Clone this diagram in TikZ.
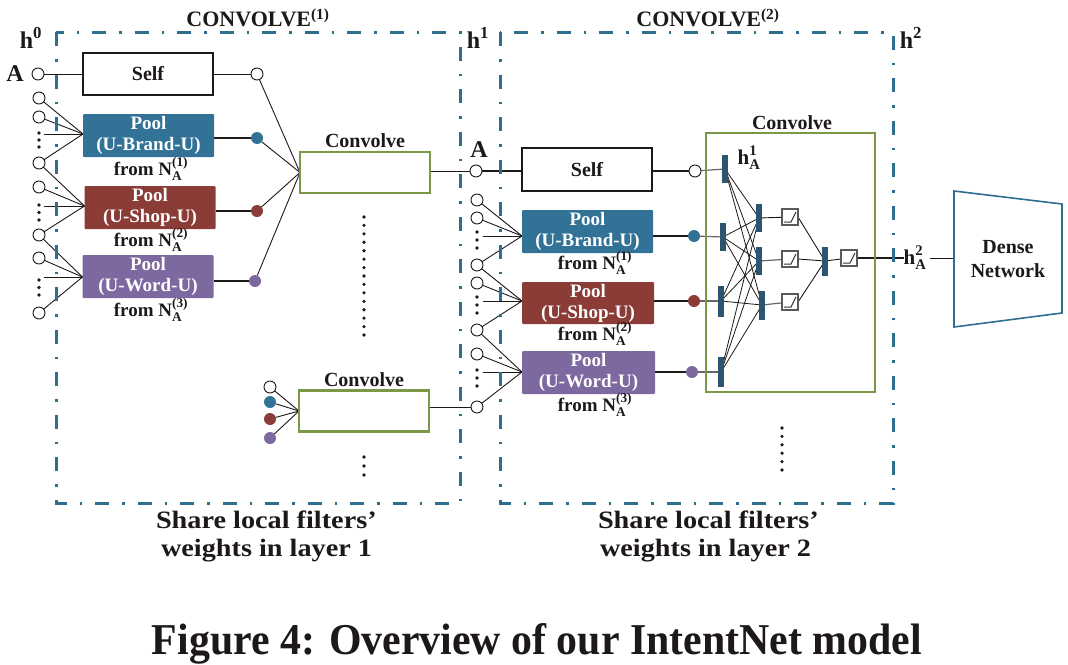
\documentclass[tikz,border=0pt]{standalone}
\usepackage{fontspec}
\setmainfont{Liberation Serif}
\usepackage{amsmath}
\usepackage{graphicx}
\usetikzlibrary{calc}
\pgfdeclarelayer{bg}
\pgfsetlayers{bg,main}
\definecolor{fblue}{RGB}{47,110,143}
\definecolor{pblue}{RGB}{49,114,150}
\definecolor{pbrown}{RGB}{139,60,54}
\definecolor{ppurple}{RGB}{126,104,160}
\definecolor{pgreen}{RGB}{122,152,70}
\definecolor{barc}{RGB}{44,86,112}
\definecolor{ink}{RGB}{30,25,25}
\newcommand{\fsz}[2]{\fontsize{#1}{#2}\selectfont}
\newcommand{\NA}[1]{$\textbf{N}_{\textbf{A}}^{\textbf{(#1)}}$}
\newcommand{\wide}[1]{\scalebox{1.13}[1]{#1}}
\begin{document}
\begin{tikzpicture}[x=1pt,y=-1pt,
 every node/.style={inner sep=0pt, outer sep=0pt, text=ink},
 frame/.style={draw=fblue, line width=3pt, dash pattern=on 14pt off 13pt on 2.5pt off 13pt},
 oc/.style={circle, draw=ink, fill=white, line width=0.9pt, minimum size=12pt},
 fc/.style={circle, fill=#1, minimum size=12pt},
 selfbox/.style={draw=ink, line width=2.2pt, minimum width=130pt, minimum height=42pt, font=\bfseries\fsz{20}{22}},
 poolbox/.style={fill=#1, rounded corners=1pt, minimum width=131pt, minimum height=43pt, align=center, text=white, font=\bfseries\fsz{19}{21}},
 convbox/.style={draw=pgreen, line width=2.4pt, minimum width=130pt, minimum height=41pt},
 lbl/.style={font=\bfseries\fsz{19}{21}},
 clbl/.style={font=\bfseries\fsz{20}{22}},
 big/.style={font=\bfseries\fsz{24}{26}},
 caplbl/.style={anchor=base west, font=\bfseries\fsz{25}{25}},
 wire/.style={draw=ink, line width=0.9pt},
 gwire/.style={draw=black!60, line width=1.2pt},
 twire/.style={draw=ink, line width=2pt},
 bar/.style={fill=barc, minimum width=6pt, minimum height=28pt},
 relu/.style={draw=black!65, line width=1.1pt, fill=white, minimum size=16pt,
   path picture={\draw[black!80,line width=1pt] ([shift={(2,-3)}]path picture bounding box.south west) -- ([shift={(1,-3)}]path picture bounding box.south) -- ([shift={(-2,3)}]path picture bounding box.north east);}},
 dotc/.style={circle, fill=ink, minimum size=3.6pt},
]
\useasboundingbox (0,0) rectangle (1068,664);

% frames
\draw[frame] (56,32) rectangle (460,503);
\draw[frame] (500,32) rectangle (893,503);
\node[font=\bfseries\fsz{22}{24}] (T1) at (258,18) {CONVOLVE\textsuperscript{(1)}};
\node[font=\bfseries\fsz{22}{24}] (T2) at (708,18) {CONVOLVE\textsuperscript{(2)}};
\node[big] (h0) at (31,38) {$\textbf{h}^{\textbf{0}}$};
\node[big] (h1) at (478,38) {$\textbf{h}^{\textbf{1}}$};
\node[big] (h2) at (911,38) {$\textbf{h}^{\textbf{2}}$};

% ---------- layer 1 ----------
\node[big] (A0) at (15,74) {A};
\node[oc] (L0) at (38,74) {};
\node[selfbox] (Lself) at (148,74) {Self};
\node[oc] (Ls) at (257,74) {};
\node[poolbox=pblue] (Lp1) at (148.5,135.5) {Pool\\(U-Brand-U)};
\node[poolbox=pbrown] (Lp2) at (150,207.5) {Pool\\(U-Shop-U)};
\node[poolbox=ppurple] (Lp3) at (148,276.5) {Pool\\(U-Word-U)};
\node[lbl] (Lf1) at (151,169) {from \NA{1}};
\node[lbl] (Lf2) at (151,240) {from \NA{2}};
\node[lbl] (Lf3) at (151,310) {from \NA{3}};
\node[fc=pblue] (Lc1) at (257,138) {};
\node[fc=pbrown] (Lc2) at (257,211) {};
\node[fc=ppurple] (Lc3) at (255,281) {};

\node[oc] (Lin1) at (39,98) {};
\node[oc] (Lin2) at (39,117) {};
\node[oc] (Lin3) at (39,163) {};
\node[oc] (Lin4) at (39,187) {};
\node[oc] (Lin5) at (39,235) {};
\node[oc] (Lin6) at (39,258) {};
\node[oc] (Lin7) at (39,313) {};
\foreach \y [count=\i] in {133,140,147} \node[dotc] (la\i) at (39,\y) {};
\foreach \y [count=\i] in {205,212.5,220} \node[dotc] (lb\i) at (39,\y) {};
\foreach \y [count=\i] in {280,287.5,295} \node[dotc] (lc\i) at (39,\y) {};
\coordinate (Ld1) at (44,134);
\coordinate (Ld2) at (44,206);
\coordinate (Ld3) at (44,277);
\coordinate (Lq1) at (Lp1.west |- Ld1);
\coordinate (Lq2) at (Lp2.west |- Ld2);
\coordinate (Lq3) at (Lp3.west |- Ld3);

\node[convbox] (Lcv1) at (365,172.5) {};
\node[clbl] (Lcv1t) at (365,141) {Convolve};
\foreach \i in {0,...,14} \node[dotc] (vd\i) at (364,217+8.43*\i) {};
\node[convbox] (Lcv2) at (364,411) {};
\node[clbl] (Lcv2t) at (364,380) {Convolve};
\node[oc] (Li0) at (270,387) {};
\node[fc=pblue] (Li1) at (270,402) {};
\node[fc=pbrown] (Li2) at (270,419) {};
\node[fc=ppurple] (Li3) at (270,438) {};
\foreach \y [count=\i] in {457,466,475} \node[dotc] (ld\i) at (364,\y) {};

% ---------- layer 2 ----------
\node[big] (A1) at (479,150) {A};
\node[oc] (M0) at (476,171) {};
\node[oc] (M1) at (477,200) {};
\node[oc] (M2) at (477,218) {};
\node[oc] (M3) at (477,265) {};
\node[oc] (M4) at (477,283) {};
\node[oc] (M5) at (477,330) {};
\node[oc] (M6) at (477,354) {};
\node[oc] (M7) at (477,407) {};
\foreach \y [count=\i] in {232,240,248} \node[dotc] (ma\i) at (477,\y) {};
\foreach \y [count=\i] in {297,305,313} \node[dotc] (mb\i) at (477,\y) {};
\foreach \y [count=\i] in {370,378,386} \node[dotc] (mc\i) at (477,\y) {};
\coordinate (Md1) at (483,236);
\coordinate (Md2) at (483,301);
\coordinate (Md3) at (483,372);

\node[selfbox, minimum height=43pt] (Rself) at (587,169.5) {Self};
\node[oc] (Rs) at (695,171) {};
\node[poolbox=pblue] (Rp1) at (587.5,231.5) {Pool\\(U-Brand-U)};
\node[poolbox=pbrown, minimum width=132pt, minimum height=42pt] (Rp2) at (588,303) {Pool\\(U-Shop-U)};
\node[poolbox=ppurple, minimum width=133pt] (Rp3) at (588.5,372.5) {Pool\\(U-Word-U)};
\node[lbl] (Rf1) at (595,263) {from \NA{1}};
\node[lbl] (Rf2) at (595,334) {from \NA{2}};
\node[lbl] (Rf3) at (595,405) {from \NA{3}};
\node[fc=pblue] (Rc1) at (694,236) {};
\node[fc=pbrown] (Rc2) at (694,301) {};
\node[fc=ppurple] (Rc3) at (692,372) {};
\coordinate (Rq1) at (Rp1.west |- Md1);
\coordinate (Rq2) at (Rp2.west |- Md2);
\coordinate (Rq3) at (Rp3.west |- Md3);

\node[draw=pgreen, line width=2.4pt, minimum width=169pt, minimum height=259pt] (Rcv) at (790.5,262.5) {};
\node[clbl] (Rcvt) at (792,123) {Convolve};
\node[font=\bfseries\fsz{21}{23}] (hA1) at (749,158) {$\textbf{h}_{\textbf{A}}^{\textbf{1}}$};
\node[bar] (B1) at (725,169) {};
\node[bar] (B2) at (723,237) {};
\node[bar, minimum height=31pt] (B3) at (721,301) {};
\node[bar, minimum height=30pt] (B4) at (721,372) {};
\node[bar] (C1) at (759,218) {};
\node[bar] (C2) at (759,261) {};
\node[bar, minimum height=29pt] (C3) at (762,305) {};
\node[relu] (S1) at (790,217) {};
\node[relu] (S2) at (790,259) {};
\node[relu] (S3) at (790,302) {};
\node[bar, minimum height=29pt] (D) at (825,261) {};
\node[relu] (So) at (849,258) {};
\node[font=\bfseries\fsz{21}{23}] (hA2) at (915,258) {$\textbf{h}_{\textbf{A}}^{\textbf{2}}$};
\foreach \i in {0,...,5} \node[dotc] (rd\i) at (782,428+8.4*\i) {};

% dense network
\draw[draw=fblue, line width=1.6pt] (954,191) -- (1062,204) -- (1062,313) -- (954,327) -- cycle;
\coordinate (dw) at (954,258);
\node[align=center, font=\bfseries\fsz{20}{24}] (dense) at (1008,259) {Dense\\Network};

% captions
\node[caplbl] (cap1a) at (156,528) {\wide{Share local filters’}};
\node[caplbl] (cap1b) at (161,556) {\wide{weights in layer 1}};
\node[caplbl] (cap2a) at (598,528) {\wide{Share local filters’}};
\node[caplbl] (cap2b) at (600,556) {\wide{weights in layer 2}};
\node[anchor=base] (fig) at (537,654) {\resizebox{770pt}{31pt}{\bfseries Figure 4: Overview of our IntentNet model}};

% ---------- connectors ----------
\begin{pgfonlayer}{bg}
\draw[wire] (L0) -- (Lself);
\draw[wire] (Lself) -- (Ls);
\draw[twire] (Lp1.east |- Lc1) -- (Lc1);
\draw[twire] (Lp2.east |- Lc2) -- (Lc2);
\draw[twire] (Lp3.east |- Lc3) -- (Lc3);
\foreach \s in {Lin1,Lin2,Ld1,Lin3} \draw[wire] (\s) -- (Lq1);
\foreach \s in {Lin3,Lin4,Ld2,Lin5} \draw[wire] (\s) -- (Lq2);
\foreach \s in {Lin5,Lin6,Ld3,Lin7} \draw[wire] (\s) -- (Lq3);
\foreach \s in {Ls,Lc1,Lc2,Lc3} \draw[wire] (\s) -- (Lcv1.west);
\draw[wire] (Lcv1.east |- M0) -- (M0);
\foreach \s in {Li0,Li1,Li2,Li3} \draw[wire] (\s) -- (Lcv2.west);
\draw[wire] (Lcv2.east |- M7) -- (M7);

\draw[twire] (M0) -- (Rself.west |- M0);
\draw[twire] (Rself.east |- Rs) -- (Rs);
\draw[twire] (Rp1.east |- Rc1) -- (Rc1);
\draw[twire] (Rp2.east |- Rc2) -- (Rc2);
\draw[twire] (Rp3.east |- Rc3) -- (Rc3);
\foreach \s in {M1,M2,Md1,M3} \draw[wire] (\s) -- (Rq1);
\foreach \s in {M3,M4,Md2,M5} \draw[wire] (\s) -- (Rq2);
\foreach \s in {M5,M6,Md3,M7} \draw[wire] (\s) -- (Rq3);

\draw[gwire] (Rs) -- (B1);
\draw[gwire] (Rc1) -- (B2);
\draw[gwire] (Rc2) -- (B3);
\draw[gwire] (Rc3) -- (B4);
\foreach \b in {B1,B2,B3,B4} \foreach \c in {C1,C2,C3} \draw[draw=ink, line width=0.8pt] (\b.center) -- (\c.center);
\draw[wire] (C1) -- (S1);
\draw[gwire] (C2) -- (S2);
\draw[gwire] (C3) -- (S3);
\foreach \s in {S1,S2,S3} \draw[wire] (\s.east) -- (D.center);
\draw[wire] (D) -- (So);
\draw[twire, line width=1.4pt] (So.east) -- (hA2.west);
\draw[wire] ([xshift=4pt]hA2.east) -- (dw);
\end{pgfonlayer}
\end{tikzpicture}
\end{document}
